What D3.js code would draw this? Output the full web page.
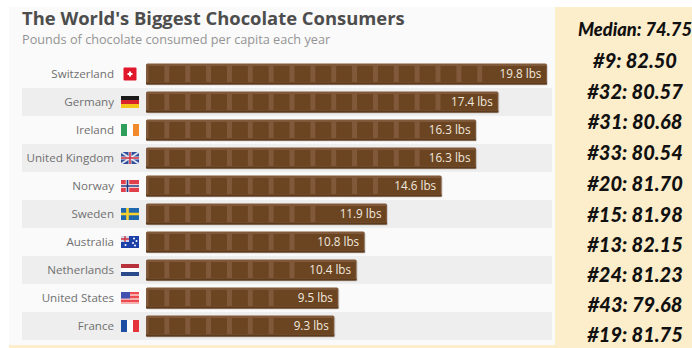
<!DOCTYPE html>
<html>
<head>
<meta charset="utf-8">
<script src="https://cdn.jsdelivr.net/npm/d3@7/dist/d3.min.js"></script>
<style>
html,body{margin:0;padding:0;background:#fff;overflow:hidden}
svg{display:block}
text{font-family:"Open Sans",sans-serif}
</style>
</head>
<body>
<svg id="chart" width="692" height="348"></svg>
<script>
const countries = ["Switzerland","Germany","Ireland","United Kingdom","Norway","Sweden","Australia","Netherlands","United States","France"];
const pounds = [19.8,17.4,16.3,16.3,14.6,11.9,10.8,10.4,9.5,9.3];
const sideLabels = ["Median: 74.75","#9: 82.50","#32: 80.57","#31: 80.68","#33: 80.54","#20: 81.70","#15: 81.98","#13: 82.15","#24: 81.23","#43: 79.68","#19: 81.75"];
const sideCentres = [30,61,92,122,153,184,215,245,275,305,335];

const svg = d3.select("#chart");

// page panels
svg.append("rect").attr("x",9).attr("y",7).attr("width",546).attr("height",338).attr("fill","#fafafa");
svg.append("rect").attr("x",555).attr("y",7).attr("width",137).attr("height",341).attr("fill","#fdeecb");
svg.append("rect").attr("x",9).attr("y",345).attr("width",546).attr("height",3).attr("fill","#fdeecb");

svg.append("text").attr("x",22).attr("y",25).attr("font-size",18.4).attr("font-weight",700)
  .attr("fill","#4d4d4d").text("The World's Biggest Chocolate Consumers");
svg.append("text").attr("x",22).attr("y",44).attr("font-size",12.7)
  .attr("fill","#949494").text("Pounds of chocolate consumed per capita each year");

const x = d3.scaleLinear().domain([0,20]).range([146,551]);
const y = d3.scaleBand().domain(countries).range([60,340]);
const barH = 21;

// zebra rows
svg.append("g").selectAll("rect").data(countries.filter((d,i)=>i%2===1)).join("rect")
  .attr("x",22).attr("width",530).attr("y",d=>y(d)).attr("height",y.bandwidth()).attr("fill","#eeeeee");

// country labels
svg.append("g").selectAll("text").data(countries).join("text")
  .attr("x",114).attr("y",d=>y(d)+y.bandwidth()/2).attr("dy","0.35em")
  .attr("text-anchor","end").attr("font-size",11.6).attr("fill","#707070").text(d=>d);

// flags, 18x12 each
const flags = {
  "Germany": f=>stripesH(f,["#1a1a1a","#d8232a","#f5c518"]),
  "Ireland": f=>stripesV(f,["#2f9e5b","#ffffff","#f08a2c"]),
  "France": f=>stripesV(f,["#1f4ea3","#ffffff","#e5343c"]),
  "Netherlands": f=>stripesH(f,["#b8323c","#ffffff","#2b4a8b"]),
  "Switzerland": f=>{
    f.append("rect").attr("x",2.5).attr("y",-0.5).attr("width",13).attr("height",13).attr("fill","#e1162b").attr("rx",1);
    f.append("rect").attr("x",6.5).attr("y",5).attr("width",5).attr("height",2).attr("fill","#fff");
    f.append("rect").attr("x",8).attr("y",3.5).attr("width",2).attr("height",5).attr("fill","#fff");
  },
  "United Kingdom": f=>{
    f.append("rect").attr("width",18).attr("height",12).attr("fill","#2f4f9a");
    f.append("path").attr("d","M0 0L18 12M18 0L0 12").attr("stroke","#e4e6f2").attr("stroke-width",1.6);
    f.append("path").attr("d","M9 0V12M0 6H18").attr("stroke","#e4e6f2").attr("stroke-width",3);
    f.append("path").attr("d","M9 0V12M0 6H18").attr("stroke","#cf2b3a").attr("stroke-width",1.5);
  },
  "Norway": f=>{
    f.append("rect").attr("width",18).attr("height",12).attr("fill","#e0404c");
    f.append("path").attr("d","M6.5 0V12M0 6H18").attr("stroke","#fff").attr("stroke-width",3.4);
    f.append("path").attr("d","M6.5 0V12M0 6H18").attr("stroke","#24387f").attr("stroke-width",1.7);
  },
  "Sweden": f=>{
    f.append("rect").attr("width",18).attr("height",12).attr("fill","#1f68ad");
    f.append("path").attr("d","M6.5 0V12M0 6H18").attr("stroke","#f7cf2e").attr("stroke-width",2.6);
  },
  "Australia": f=>{
    f.append("rect").attr("width",18).attr("height",12).attr("fill","#1d3fa8");
    f.append("rect").attr("width",8).attr("height",6).attr("fill","#d3d6ea");
    f.append("path").attr("d","M4 0V6M0 3H8").attr("stroke","#d0303c").attr("stroke-width",1.3);
    f.selectAll("circle").data([[13,2.5],[15.5,5],[12,7],[14,9.5],[4.5,9]]).join("circle")
      .attr("cx",d=>d[0]).attr("cy",d=>d[1]).attr("r",1).attr("fill","#fff");
  },
  "United States": f=>{
    stripesH(f,["#ee4a52","#f7b0b0","#ee4a52","#f7b0b0","#ee4a52","#f7b0b0"]);
    f.append("rect").attr("width",9).attr("height",6.5).attr("fill","#4250b0");
  }
};
function stripesH(f,cols){
  const h = 12/cols.length;
  f.selectAll("rect.s").data(cols).join("rect").attr("class","s")
    .attr("y",(d,i)=>i*h).attr("width",18).attr("height",h).attr("fill",d=>d);
}
function stripesV(f,cols){
  const w = 18/cols.length;
  f.selectAll("rect.s").data(cols).join("rect").attr("class","s")
    .attr("x",(d,i)=>i*w).attr("width",w).attr("height",12).attr("fill",d=>d);
}
countries.forEach(c=>{
  const f = svg.append("g").attr("transform",`translate(121,${y(c)+y.bandwidth()/2-6})`);
  flags[c](f);
});

// chocolate bars: moulded squares, then one plain slab that holds the label
const tileStep = 1.03;
const labelSlab = 2.9;
const rows = svg.append("g").selectAll("g").data(countries.map((c,i)=>({c,v:pounds[i]}))).join("g")
  .attr("transform",d=>`translate(0,${y(d.c)+(y.bandwidth()-barH)/2})`);

rows.append("rect").attr("x",x(0)+1).attr("y",1).attr("width",d=>x(d.v)-x(0)).attr("height",barH)
  .attr("fill","#000").attr("opacity",0.14).attr("rx",1.5);
rows.append("rect").attr("x",x(0)).attr("width",d=>x(d.v)-x(0)).attr("height",barH)
  .attr("fill","#80593a").attr("rx",1.5);
rows.append("rect").attr("x",x(0)).attr("y",barH-2).attr("width",d=>x(d.v)-x(0)).attr("height",2)
  .attr("fill","#5c3a1c");

rows.each(function(d){
  const count = Math.floor((d.v-labelSlab)/tileStep);
  const starts = d3.range(count+1).map(i=>i*tileStep);
  d3.select(this).selectAll("rect.tile").data(starts).join("rect").attr("class","tile")
    .attr("x",s=>x(s)+2.5)
    .attr("y",2.5)
    .attr("width",(s,i)=> i===count ? x(d.v)-x(s)-3.5 : x(tileStep)-x(0)-5)
    .attr("height",barH-5)
    .attr("fill","#6b4422");
});

rows.append("text").attr("x",d=>x(d.v)-5.5).attr("y",barH/2).attr("dy","0.35em")
  .attr("text-anchor","end").attr("font-size",11.7).attr("fill","#efe8de")
  .text(d=>d.v.toFixed(1)+" lbs");

// side column of scores
svg.append("g").selectAll("text").data(sideLabels).join("text")
  .attr("x",(d,i)=>i===0?578:635)
  .attr("y",(d,i)=>sideCentres[i])
  .attr("dy","0.35em")
  .attr("text-anchor",(d,i)=>i===0?"start":"middle")
  .attr("font-size",(d,i)=>i===0?18.2:20)
  .attr("font-weight",900)
  .attr("font-style","italic")
  .attr("fill","#111")
  .style("font-family","Lato, sans-serif")
  .text(d=>d);
</script>
</body>
</html>
